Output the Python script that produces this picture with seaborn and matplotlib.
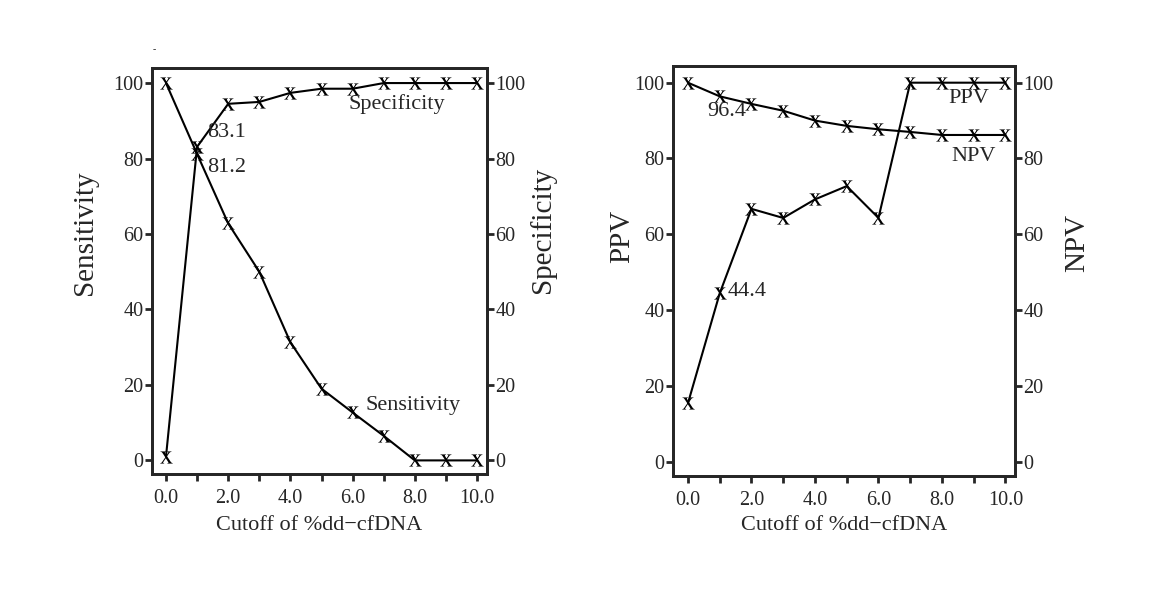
import numpy as np
import pandas as pd
import matplotlib
matplotlib.use("Agg")
import matplotlib.pyplot as plt
import seaborn as sns

# ---- data ----
cutoff = [0, 1, 2, 3, 4, 5, 6, 7, 8, 9, 10]
sensitivity = [100, 81.2, 62.8, 50.0, 31.3, 19.0, 12.7, 6.5, 0, 0, 0]
specificity = [1.0, 83.1, 94.5, 95.0, 97.4, 98.5, 98.5, 100, 100, 100, 100]
ppv = [15.4, 44.4, 66.7, 64.3, 69.2, 72.7, 64.3, 100, 100, 100, 100]
npv = [100, 96.4, 94.4, 92.6, 90.0, 88.6, 87.7, 87.0, 86.2, 86.2, 86.2]
xtick_vals = [0, 1, 2, 3, 4, 5, 6, 7, 8, 9, 10]
xtick_labels = ["0.0", "", "2.0", "", "4.0", "", "6.0", "", "8.0", "", "10.0"]
ytick_vals = [0, 20, 40, 60, 80, 100]
xlabel = "Cutoff of %dd\u2212cfDNA"

df = pd.DataFrame({"cutoff": cutoff, "Sensitivity": sensitivity,
                   "Specificity": specificity, "PPV": ppv, "NPV": npv})

sns.set_style("ticks")
plt.rcParams["font.family"] = ["Liberation Serif", "DejaVu Serif"]
plt.rcParams["mathtext.fontset"] = "stix"

fig = plt.figure(figsize=(11.62, 6.09), dpi=100)
axL = fig.add_axes([0.1308, 0.2217, 0.2883, 0.6667])
axR = fig.add_axes([0.5792, 0.2184, 0.2943, 0.6732])

mk = r"$\mathrm{x}$"
line_kw = dict(color="black", linewidth=1.5, marker=mk, markersize=9,
               markeredgewidth=0, markerfacecolor="black", markeredgecolor="black")

sns.lineplot(data=df, x="cutoff", y="Sensitivity", ax=axL, **line_kw)
sns.lineplot(data=df, x="cutoff", y="Specificity", ax=axL, **line_kw)
sns.lineplot(data=df, x="cutoff", y="PPV", ax=axR, **line_kw)
sns.lineplot(data=df, x="cutoff", y="NPV", ax=axR, **line_kw)

tick_fs = 14.5
lab_fs = 21

def set_ylab(axis_obj, text, x, y):
    axis_obj.set_label_text(text, fontsize=lab_fs)
    axis_obj.set_label_coords(x, y)
    axis_obj.label.set_va("center")
    axis_obj.label.set_ha("center")

def style(ax, xlim, ylim, ylab_left, ylab_right, lpos, rpos, xlab_y):
    ax.set_xlim(*xlim)
    ax.set_ylim(*ylim)
    ax.set_xticks(xtick_vals)
    ax.set_xticklabels(xtick_labels, fontsize=tick_fs)
    ax.set_yticks(ytick_vals)
    ax.set_yticklabels([str(v) for v in ytick_vals], fontsize=tick_fs)
    ax.tick_params(direction="out", length=5, width=2, pad=1)
    ax.tick_params(axis="x", pad=6)
    for s in ax.spines.values():
        s.set_visible(True)
        s.set_linewidth(2)
    ax.set_xlabel(xlabel, fontsize=16)
    ax.xaxis.set_label_coords(0.5, xlab_y)
    ax.xaxis.label.set_va("center")
    set_ylab(ax.yaxis, ylab_left, *lpos)
    tw = ax.twinx()
    tw.set_ylim(*ylim)
    tw.set_yticks(ytick_vals)
    tw.set_yticklabels([str(v) for v in ytick_vals], fontsize=tick_fs)
    tw.tick_params(direction="out", length=5, width=2, pad=1)
    for s in tw.spines.values():
        s.set_linewidth(2)
    set_ylab(tw.yaxis, ylab_right, *rpos)
    return tw

style(axL, (-0.45, 10.32), (-3.6, 104.0), "Sensitivity", "Specificity",
      (-0.20, 0.594), (1.167, 0.60), -0.126)
style(axR, (-0.47, 10.3), (-3.8, 104.4), "PPV", "NPV",
      (-0.149, 0.585), (1.181, 0.568), -0.12)

afs = 16
axL.text(1.32, 86.8, "83.1", fontsize=afs, ha="left", va="center")
axL.text(1.32, 77.6, "81.2", fontsize=afs, ha="left", va="center")
axL.text(7.43, 94.5, "Specificity", fontsize=afs, ha="center", va="center")
axL.text(7.94, 14.5, "Sensitivity", fontsize=afs, ha="center", va="center")

axR.text(1.23, 92.5, "96.4", fontsize=afs, ha="center", va="center")
axR.text(8.86, 95.7, "PPV", fontsize=afs, ha="center", va="center")
axR.text(9.0, 80.4, "NPV", fontsize=afs, ha="center", va="center")
axR.text(1.26, 45.0, "44.4", fontsize=afs, ha="left", va="center")

fig.text(0.133, 0.918, "-", fontsize=7, ha="center", va="center")

fig.savefig("out.png", dpi=100)
